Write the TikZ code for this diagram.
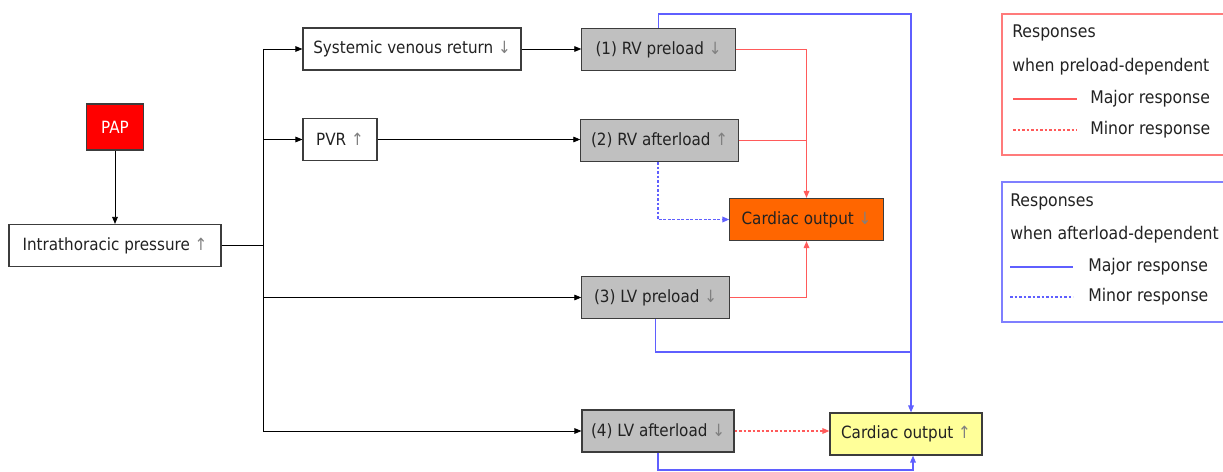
\documentclass[tikz,border=0pt]{standalone}
\usepackage{fontspec}
\setmainfont{DejaVu Sans Condensed}
\usepackage{xcolor}
\definecolor{paperred}{RGB}{255,0,0}
\definecolor{cofall}{RGB}{255,102,0}
\definecolor{corise}{RGB}{255,255,153}
\definecolor{loadgray}{RGB}{192,192,192}
\definecolor{majred}{RGB}{255,90,90}
\definecolor{majblue}{RGB}{95,95,255}
\definecolor{boxline}{RGB}{60,60,60}
\definecolor{txtgray}{RGB}{34,34,34}
\newcommand{\arrup}{\textcolor{gray}{↑}}
\newcommand{\arrdown}{\textcolor{gray}{↓}}
\usetikzlibrary{arrows.meta, positioning}

\begin{document}
\begin{tikzpicture}[x=0.025cm, y=-0.025cm,
    font=\fontsize{12}{14}\selectfont, text=txtgray,
    box/.style={draw=boxline, line width=0.8pt, minimum height=1.05cm, inner sep=0pt},
    loadbox/.style={box, fill=loadgray},
    link/.style={line width=0.6pt, -{Triangle[length=5pt,width=4pt]}},
    redline/.style={draw=majred, line width=0.9pt},
    blueline/.style={draw=majblue, line width=0.9pt},
    minor/.style={dash pattern=on 2pt off 1.2pt},
    legtext/.style={anchor=west, inner sep=0pt, font=\fontsize{12.4}{14}\selectfont}]
  \useasboundingbox (0,0) rectangle (1223,472);

  \node[box, fill=paperred, text=white, minimum width=1.43cm, minimum height=1.15cm] (pap) at (115,127) {PAP};
  \node[box, minimum width=5.3cm] (intra) at (115,245.5) {Intrathoracic pressure \arrup};
  \node[box, minimum width=5.45cm] (svr) at (412,49) {Systemic venous return \arrdown};
  \node[box, minimum width=1.85cm] (pvr) at (340,139.5) {PVR \arrup};
  \node[loadbox, minimum width=3.83cm] (rvpre) at (658.5,49.5) {(1) RV preload \arrdown};
  \node[loadbox, minimum width=3.93cm] (rvaft) at (659.5,140.5) {(2) RV afterload \arrup};
  \node[box, fill=cofall, minimum width=3.83cm] (codown) at (806.5,219.5) {Cardiac output \arrdown};
  \node[loadbox, minimum width=3.68cm] (lvpre) at (655.5,297.5) {(3) LV preload \arrdown};
  \node[loadbox, minimum width=3.8cm] (lvaft) at (658,431) {(4) LV afterload \arrdown};
  \node[box, fill=corise, minimum width=3.8cm] (coup) at (906,434) {Cardiac output \arrup};

  % branching from intrathoracic pressure
  \coordinate (bus) at (263,245.5);
  \coordinate (bus top) at (263,49);
  \coordinate (bus bottom) at (263,431);
  \draw[link] (pap) -- (intra);
  \draw[line width=0.6pt] (intra) -- (bus);
  \draw[line width=0.6pt] (bus top) -- (bus bottom);
  \draw[link] (bus top) -- (svr);
  \draw[link] (bus top |- pvr) -- (pvr);
  \draw[link] (bus top |- lvpre) -- (lvpre);
  \draw[link] (bus bottom) -- (lvaft);
  \draw[link] (svr) -- (svr -| rvpre.west);
  \draw[link] (pvr) -- (pvr -| rvaft.west);

  % preload-dependent responses
  \draw[link, redline] (rvpre) -| (codown);
  \draw[redline] (rvaft) -- (rvaft -| codown);
  \draw[link, redline] (lvpre) -| (codown);
  \draw[link, redline, minor] (lvaft) -- (lvaft -| coup.west);

  % afterload-dependent responses
  \coordinate (top turn) at (911,14);
  \coordinate (mid turn) at (911,352);
  \coordinate (low turn) at (913,470);
  \draw[link, blueline, minor, line width=1pt] ([xshift=-0.04cm]rvaft.south) |- (codown);
  \draw[link, blueline] (rvpre) |- (top turn) -- (top turn |- coup.north);
  \draw[blueline] (lvpre) |- (mid turn);
  \draw[link, blueline] (lvaft) |- (low turn) -- (low turn |- coup.south);

  % legends
  \draw[draw=majred!80, line width=1pt] (1226,14) -- (1002,14) -- (1002,155) -- (1226,155);
  \node[legtext] (lega) at (1012,33) {Responses};
  \node[legtext] (legb) at (1012,67) {when preload-dependent};
  \draw[redline] (1013,99) -- (1077,99);
  \node[legtext] (legc) at (1090,99) {Major response};
  \draw[redline, minor] (1013,130) -- (1077,130);
  \node[legtext] (legd) at (1090,130) {Minor response};

  \draw[draw=majblue!80, line width=1pt] (1226,182) -- (1002,182) -- (1002,322) -- (1226,322);
  \node[legtext] (lege) at (1010,202) {Responses};
  \node[legtext] (legf) at (1010,235) {when afterload-dependent};
  \draw[blueline] (1010,267) -- (1073,267);
  \node[legtext] (legg) at (1088,267) {Major response};
  \draw[blueline, minor] (1010,297) -- (1073,297);
  \node[legtext] (legh) at (1088,297) {Minor response};
\end{tikzpicture}
\end{document}
